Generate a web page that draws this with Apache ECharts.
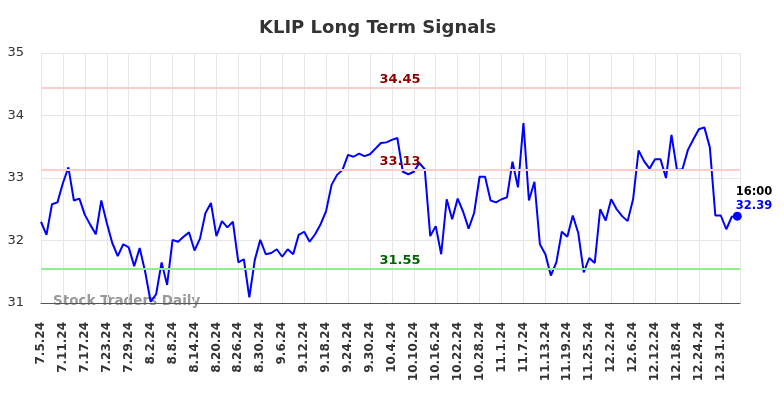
<!DOCTYPE html>
<html>
<head>
<meta charset="utf-8">
<script src="https://cdn.jsdelivr.net/npm/echarts@6/dist/echarts.min.js"></script>
<style>html,body{margin:0;padding:0;background:#fff}#c{width:784px;height:398px}</style>
</head>
<body>
<div id="c"></div>
<script>
// Trading-day tick labels (every 4th trading day)
var tickLabels = ['7.5.24','7.11.24','7.17.24','7.23.24','7.29.24','8.2.24','8.8.24','8.14.24','8.20.24','8.26.24','8.30.24','9.6.24','9.12.24','9.18.24','9.24.24','9.30.24','10.4.24','10.10.24','10.16.24','10.22.24','10.28.24','11.1.24','11.7.24','11.13.24','11.19.24','11.25.24','12.2.24','12.6.24','12.12.24','12.18.24','12.24.24','12.31.24'];
var tickStep = 4;

// Daily closing prices
var prices = [32.30,32.09,32.58,32.61,32.92,33.17,32.64,32.67,32.41,32.25,
32.10,32.64,32.28,31.96,31.75,31.94,31.89,31.59,31.88,31.50,
31.02,31.14,31.65,31.29,32.01,31.98,32.06,32.13,31.84,32.03,
32.44,32.60,32.07,32.31,32.21,32.30,31.65,31.70,31.09,31.69,
32.01,31.78,31.80,31.86,31.74,31.86,31.78,32.09,32.14,31.98,
32.10,32.26,32.47,32.89,33.05,33.13,33.37,33.34,33.39,33.35,
33.38,33.47,33.56,33.57,33.61,33.64,33.10,33.06,33.10,33.24,
33.14,32.07,32.23,31.78,32.66,32.34,32.67,32.46,32.19,32.44,
33.02,33.02,32.64,32.61,32.66,32.69,33.26,32.85,33.88,32.64,
32.94,31.94,31.78,31.44,31.65,32.14,32.06,32.40,32.12,31.49,
31.72,31.64,32.50,32.32,32.66,32.50,32.39,32.31,32.66,33.44,
33.27,33.15,33.30,33.30,33.00,33.69,33.13,33.14,33.45,33.62,
33.78,33.81,33.49,32.40,32.40,32.18,32.38,32.39];

// Signal levels
var resistanceHigh = 34.45;
var resistanceMid = 33.13;
var support = 31.55;
var lastTime = '16:00';

// Y axis ticks
var yMin = 31, yMax = 35, yStep = 1;

var lineData = prices.map(function (v, i) { return [i, v]; });
var lastIdx = prices.length - 1;
var labelX = 65.5;

var chart = echarts.init(document.getElementById('c'));
chart.setOption({
  animation: false,
  backgroundColor: '#fff',
  title: {
    text: 'KLIP Long Term Signals',
    left: 254, top: 14,
    textStyle: { fontFamily: 'DejaVu Sans', fontSize: 18, fontWeight: 'bold', color: '#333' }
  },
  grid: { left: 41, right: 44, top: 53, bottom: 95 },
  graphic: [{
    type: 'text', left: 53, top: 294, z: 0,
    style: { text: 'Stock Traders Daily', fill: '#999', font: 'bold 13.5px "DejaVu Sans"' }
  }],
  xAxis: {
    type: 'value', min: 0, max: lastIdx + 0.5, interval: tickStep,
    axisLine: { show: true, lineStyle: { color: '#555', width: 1 } },
    axisTick: { show: false },
    splitLine: { show: true, lineStyle: { color: '#e6e6e6', width: 1 } },
    axisLabel: {
      rotate: 90, margin: 19, color: '#333', fontFamily: 'DejaVu Sans', fontSize: 12, fontWeight: 'bold',
      showMaxLabel: true,
      formatter: function (v) { return (v % tickStep === 0 && tickLabels[v / tickStep]) ? tickLabels[v / tickStep] : ''; }
    }
  },
  yAxis: {
    type: 'value', min: yMin, max: yMax, interval: yStep,
    axisLine: { show: false }, axisTick: { show: false },
    splitLine: { show: true, lineStyle: { color: '#e6e6e6', width: 1 } },
    axisLabel: { color: '#333', fontFamily: 'DejaVu Sans', fontSize: 13, margin: 17 }
  },
  series: [{
    type: 'line', data: lineData, showSymbol: false, z: 3,
    lineStyle: { color: '#0000ff', width: 2 },
    markLine: {
      silent: true, symbol: 'none', label: { show: false },
      data: [
        { yAxis: resistanceHigh, lineStyle: { color: '#ffcccc', width: 2, type: 'solid' } },
        { yAxis: resistanceMid, lineStyle: { color: '#ffcccc', width: 2, type: 'solid' } },
        { yAxis: support, lineStyle: { color: '#90ee90', width: 2, type: 'solid' } }
      ]
    },
    markPoint: {
      symbol: 'circle', symbolSize: 0, silent: true,
      label: { show: true, position: 'inside', offset: [0, -8], fontFamily: 'DejaVu Sans', fontSize: 13, fontWeight: 'bold' },
      data: [
        { coord: [labelX, resistanceHigh], value: resistanceHigh.toFixed(2), label: { color: '#8b0000' } },
        { coord: [labelX, resistanceMid], value: resistanceMid.toFixed(2), label: { color: '#8b0000' } },
        { coord: [labelX, support], value: support.toFixed(2), label: { color: '#006400' } }
      ]
    }
  }, {
    type: 'scatter', z: 4,
    data: [[lastIdx, prices[lastIdx]]],
    symbolSize: 9, itemStyle: { color: '#0000ff', opacity: 1 },
    label: {
      show: true, position: 'right', distance: 0, offset: [-6, -17], align: 'left',
      formatter: function (p) { return '{t|' + lastTime + '}\n{v|' + p.value[1].toFixed(2) + '}'; },
      rich: {
        t: { color: '#000', fontFamily: 'DejaVu Sans', fontSize: 11.5, fontWeight: 'bold', lineHeight: 14 },
        v: { color: '#0000ff', fontFamily: 'DejaVu Sans', fontSize: 11.5, fontWeight: 'bold', lineHeight: 14 }
      }
    }
  }]
});
</script>
</body>
</html>
